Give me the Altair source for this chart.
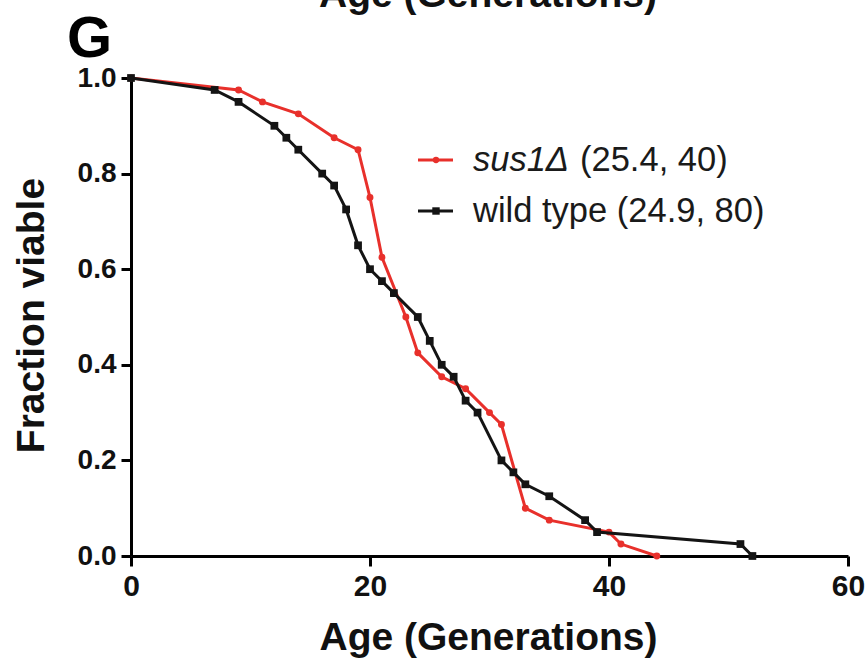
import altair as alt
import pandas as pd

# ---- data ----
sus1_age = [0, 9, 11, 14, 17, 19, 20, 21, 23, 24, 26, 28, 30, 31, 33, 35, 40, 41, 44]
sus1_frac = [1.0, 0.975, 0.95, 0.925, 0.875, 0.85, 0.75, 0.625, 0.5, 0.425,
             0.375, 0.35, 0.3, 0.275, 0.1, 0.075, 0.05, 0.025, 0.0]
wt_age = [0, 7, 9, 12, 13, 14, 16, 17, 18, 19, 20, 21, 22, 24, 25, 26, 27,
          28, 29, 31, 32, 33, 35, 38, 39, 51, 52]
wt_frac = [1.0, 0.975, 0.95, 0.9, 0.875, 0.85, 0.8, 0.775, 0.725, 0.65, 0.6,
           0.575, 0.55, 0.5, 0.45, 0.4, 0.375, 0.325, 0.3, 0.2, 0.175, 0.15,
           0.125, 0.075, 0.05, 0.025, 0.0]
x_ticks = [0, 20, 40, 60]
y_ticks = [0.0, 0.2, 0.4, 0.6, 0.8, 1.0]
legend_italic = ["sus1\u0394", ""]
legend_rest = ["(25.4, 40)", "wild type (24.9, 80)"]
panel_label = "G"
top_cut_title = "Age (Generations)"

RED = "#e8302b"
BLACK = "#141414"
FONT = "Liberation Sans"

sus1_df = pd.DataFrame({"age": sus1_age, "frac": sus1_frac})
wt_df = pd.DataFrame({"age": wt_age, "frac": wt_frac})

xscale = alt.Scale(domain=[0, 60], nice=False, zero=False)
yscale = alt.Scale(domain=[0, 1], nice=False)

xaxis = alt.Axis(values=x_ticks, format="d", title="Age (Generations)",
                 labelFlush=False, labelFontSize=30, labelPadding=5,
                 titleX=357, titleY=81, titleBaseline="middle", titleAlign="center")
yaxis = alt.Axis(values=y_ticks, format=".1f", title="Fraction viable",
                 labelFlush=False, labelFontSize=28, labelPadding=5,
                 titleX=-100, titleY=237, titleAngle=270, titleBaseline="middle",
                 titleAlign="center")


def series(df, color, shape, size):
    x = alt.X("age:Q", scale=xscale, axis=xaxis)
    y = alt.Y("frac:Q", scale=yscale, axis=yaxis)
    line = alt.Chart(df).mark_line(color=color, strokeWidth=3).encode(x=x, y=y)
    pts = alt.Chart(df).mark_point(shape=shape, filled=True, opacity=1,
                                   color=color, size=size).encode(x=x, y=y)
    return line + pts


red_layer = series(sus1_df, RED, "circle", 48)
black_layer = series(wt_df, BLACK, "square", 60)

# ---- manual legend (mixed italic / regular text) ----
one = pd.DataFrame({"k": [0]})
leg_rows = [(82, RED, "circle", 40), (133, BLACK, "square", 55)]
legend_layers = []
for i, (ly, col, shp, sz) in enumerate(leg_rows):
    legend_layers.append(
        alt.Chart(one).mark_rule(color=col, strokeWidth=3).encode(
            x=alt.value(287), x2=alt.value(322), y=alt.value(ly)))
    legend_layers.append(
        alt.Chart(one).mark_point(shape=shp, filled=True, opacity=1, color=col,
                                  size=sz).encode(x=alt.value(305), y=alt.value(ly)))
leg_text = pd.DataFrame({"ital": legend_italic, "rest": legend_rest})
legend_layers.append(
    alt.Chart(leg_text.iloc[[0]]).mark_text(
        align="left", baseline="alphabetic", font=FONT, fontSize=34.5,
        fontStyle="italic", color="#1a1a1a").encode(
        text="ital:N", x=alt.value(342), y=alt.value(93)))
legend_layers.append(
    alt.Chart(leg_text.iloc[[0]]).mark_text(
        align="left", baseline="alphabetic", font=FONT, fontSize=34.5,
        color="#1a1a1a").encode(text="rest:N", x=alt.value(449), y=alt.value(93)))
legend_layers.append(
    alt.Chart(leg_text.iloc[[1]]).mark_text(
        align="left", baseline="alphabetic", font=FONT, fontSize=34.5,
        color="#1a1a1a").encode(text="rest:N", x=alt.value(342), y=alt.value(144)))

# ---- panel letter and cut-off title of the panel above ----
deco = pd.DataFrame({"g": [panel_label], "t": [top_cut_title]})
g_text = alt.Chart(deco).mark_text(
    align="left", baseline="alphabetic", font=FONT, fontSize=58,
    fontWeight="bold", color="black").encode(
    text="g:N", x=alt.value(-64), y=alt.value(-21))
top_text = alt.Chart(deco).mark_text(
    align="center", baseline="alphabetic", font=FONT, fontSize=39,
    fontWeight="bold", color="#111111").encode(
    text="t:N", x=alt.value(357), y=alt.value(-71))

chart = alt.layer(red_layer, black_layer, *legend_layers, g_text, top_text).properties(
    width=717, height=478,
    autosize=alt.AutoSizeParams(type="none"),
    padding={"left": 131, "top": 78, "right": 19, "bottom": 109},
    background="white",
).configure_view(stroke=None).configure_axis(
    grid=False,
    domainColor="black", domainWidth=3,
    tickColor="black", tickWidth=3, tickSize=10,
    labelFont=FONT, labelFontWeight="bold", labelColor="#111111",
    titleFont=FONT, titleFontWeight="bold", titleFontSize=39, titleColor="#111111",
)

chart.save("out.html", embed_options={"renderer": "svg", "actions": False})
